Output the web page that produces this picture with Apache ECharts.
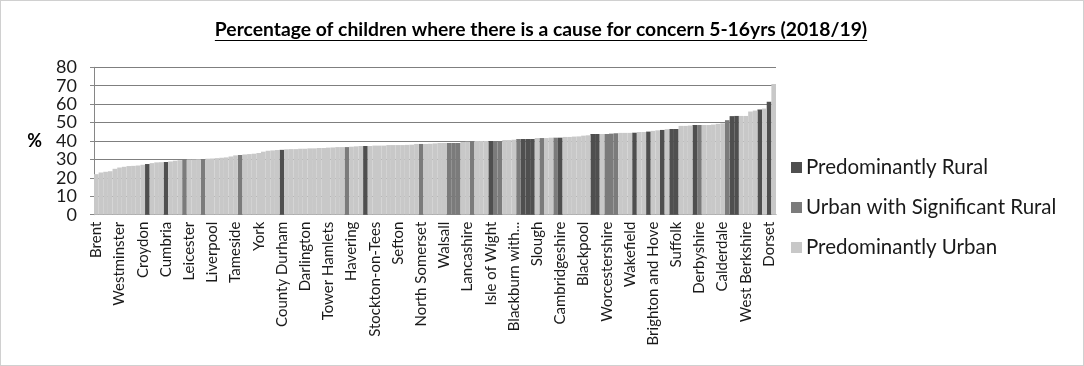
<!DOCTYPE html>
<html>
<head>
<meta charset="utf-8">
<script src="https://cdn.jsdelivr.net/npm/echarts@6/dist/echarts.min.js"></script>
<style>
html,body{margin:0;padding:0;background:#fff;}
#chart{width:1084px;height:366px;box-sizing:border-box;border:1px solid #d0d0d0;}
</style>
</head>
<body>
<div id="chart"></div>
<script>
// ---- data ----
const titleText = 'Percentage of children where there is a cause for concern 5-16yrs (2018/19)';
const seriesNames = ['Predominantly Rural', 'Urban with Significant Rural', 'Predominantly Urban'];
// visible axis labels (every 5th authority); other names are not shown in the picture
const shownLabels = ['Brent','Westminster','Croydon','Cumbria','Leicester','Liverpool','Tameside','York',
  'County Durham','Darlington','Tower Hamlets','Havering','Stockton-on-Tees','Sefton','North Somerset',
  'Walsall','Lancashire','Isle of Wight','Blackburn with Darwen','Slough','Cambridgeshire','Blackpool',
  'Worcestershire','Wakefield','Brighton and Hove','Suffolk','Derbyshire','Calderdale','West Berkshire','Dorset'];
const values = [
  22.0,22.9,23.3,23.6,24.9,25.6,26.0,26.4,26.5,26.7,
  27.1,27.5,28.0,28.4,28.5,28.6,28.9,29.3,29.6,30.0,
  30.0,30.0,30.1,30.2,30.4,30.5,30.7,30.9,31.1,31.6,
  32.2,32.4,32.7,32.9,33.1,33.5,34.2,34.7,34.9,35.1,
  35.2,35.5,35.6,35.6,35.8,35.8,36.0,36.0,36.2,36.2,
  36.4,36.5,36.7,36.7,36.7,36.9,37.1,37.3,37.3,37.3,
  37.5,37.5,37.5,37.8,37.8,37.8,37.8,37.9,38.0,38.4,
  38.4,38.4,38.5,38.7,38.9,38.9,38.9,38.9,38.9,39.5,
  39.6,39.8,40.0,40.0,40.0,40.0,40.0,40.0,40.5,40.5,
  40.7,41.1,41.1,41.1,41.1,41.6,41.6,41.6,41.8,41.8,
  41.8,42.2,42.2,42.4,42.5,42.9,43.1,43.8,43.8,43.8,
  43.8,44.0,44.2,44.4,44.4,44.4,44.5,44.9,44.9,45.1,
  45.5,45.8,46.0,46.4,46.5,46.5,48.2,48.2,48.4,48.7,
  48.7,48.7,48.7,48.9,49.3,49.6,51.3,53.5,53.6,53.6,
  53.6,56.0,56.5,57.1,57.6,61.3,70.9
];
// positions (in the sorted order) of the two non-urban classes; all others are Predominantly Urban
const ruralIdx = [11,15,40,58,85,92,93,94,100,107,108,116,119,122,124,125,129,137,138,143,145];
const sigRuralIdx = [19,23,31,54,70,76,77,78,81,86,87,91,96,99,110,111,112,130,136];
const yTicks = [0, 10, 20, 30, 40, 50, 60, 70, 80];
const colors = ['#4f4f4f', '#7b7b7b', '#c8c8c8'];

// ---- build ----
const categories = values.map((v, i) => (i % 5 === 0 ? shownLabels[i / 5] : ''));
const classOf = values.map((v, i) => (ruralIdx.includes(i) ? 0 : sigRuralIdx.includes(i) ? 1 : 2));
const series = seriesNames.map((name, k) => ({
  name: name,
  type: 'bar',
  barGap: '-100%',
  barCategoryGap: '0%',
  itemStyle: {color: colors[k], borderColor: colors[k], borderWidth: 2.4},
  data: values.map((v, i) => (classOf[i] === k ? v : null))
}));

const font = 'Lato, "Open Sans", sans-serif';
const cv = document.createElement('canvas').getContext('2d');
const titleFont = 'bold 19.3px Lato';
cv.font = titleFont;
const tw = cv.measureText(titleText).width;

// axis labels that do not fit the space below the axis are cut at a word with "..."
const xLabelFont = 15, xLabelMax = 138;
function fitLabel(s) {
  cv.font = xLabelFont + 'px Lato';
  if (cv.measureText(s).width <= xLabelMax) return s;
  const words = s.split(' ');
  while (words.length > 1) {
    words.pop();
    const t = words.join(' ') + '...';
    if (cv.measureText(t).width <= xLabelMax) return t;
  }
  return s;
}

const chart = echarts.init(document.getElementById('chart'), null, {renderer: 'canvas'});
chart.setOption({
  animation: false,
  grid: {left: 93, right: 307, top: 66.3, bottom: 150.3, containLabel: false, outerBoundsMode: 'none'},
  graphic: [
    {type: 'text', x: 540, y: 29, style: {text: titleText, font: titleFont, fill: '#000', align: 'center', verticalAlign: 'middle'}},
    {type: 'line', shape: {x1: 540 - tw / 2, y1: 39.5, x2: 540 + tw / 2, y2: 39.5}, style: {stroke: '#000', lineWidth: 1}}
  ],
  legend: {
    orient: 'vertical', left: 785, top: 151,
    icon: 'rect', itemWidth: 9, itemHeight: 9, itemGap: 19,
    textStyle: {fontFamily: font, fontSize: 20.5, color: '#1a1a1a', lineHeight: 20},
    data: seriesNames
  },
  xAxis: {
    type: 'category', data: categories,
    axisLine: {lineStyle: {color: '#868686', width: 1}},
    axisTick: {interval: 0, length: 5, lineStyle: {color: '#868686'}},
    axisLabel: {interval: 4, rotate: 90, fontFamily: font, fontSize: xLabelFont, color: '#1a1a1a', margin: 7,
      formatter: fitLabel}
  },
  yAxis: {
    type: 'value', min: yTicks[0], max: yTicks[yTicks.length - 1], interval: yTicks[1] - yTicks[0],
    name: '%', nameLocation: 'middle', nameRotate: 0, nameGap: 52,
    nameTextStyle: {fontFamily: font, fontSize: 18, fontWeight: 'bold', color: '#000'},
    axisLine: {show: true, lineStyle: {color: '#868686'}},
    axisTick: {show: true, length: 4, lineStyle: {color: '#868686'}},
    axisLabel: {fontFamily: font, fontSize: 18, color: '#1a1a1a', margin: 17, showMinLabel: true, showMaxLabel: true},
    splitLine: {show: true, lineStyle: {color: '#7f7f7f', width: 1}}
  },
  series: series
});
</script>
</body>
</html>
